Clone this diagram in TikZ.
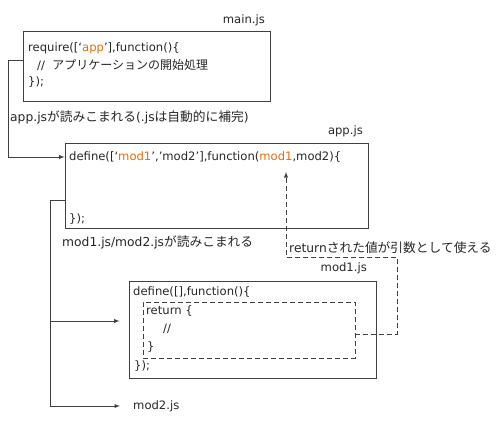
\documentclass[tikz,border=0pt]{standalone}
\usepackage{fontspec}
\setmainfont{DejaVu Sans}
\newfontfamily\jpfont[Scale=1.035]{Noto Sans CJK JP}
\usetikzlibrary{positioning}
\definecolor{argorange}{RGB}{228,108,10}
\definecolor{linegray}{RGB}{64,64,64}
\newcommand{\jp}[1]{{\jpfont #1}}
\newcommand{\hlarg}[1]{\textcolor{argorange}{#1}}
\begin{document}
\begin{tikzpicture}[x=1pt, y=-1pt, font=\fontsize{11.6}{14}\selectfont,
    box/.style = {draw=linegray, line width=0.9pt, inner sep=0pt},
    retbox/.style = {draw=linegray, dash pattern=on 5pt off 3pt, line width=0.9pt, inner sep=0pt},
    code/.style = {anchor=west, inner sep=0pt, text=black!85},
    note/.style = {code, font=\fontsize{12.3}{14}\selectfont},
    link/.style = {draw=linegray, line width=0.9pt, -latex},
    back/.style = {draw=linegray, dash pattern=on 5pt off 3pt, line width=0.9pt, -latex}]
  \useasboundingbox (0,0) rectangle (500,426);
  % main.js
  \node[box, minimum width=247, minimum height=70] (mainbox) at (146.5,66) {};
  \node[code, anchor=east] (mainname) at (265,20) {main.js};
  \node[code] (main1) at (28,48) {require([‘\hlarg{app}’],function()\{};
  \node[code] (main2) at (37,65) {//\ \ \jp{アプリケーションの開始処理}};
  \node[code] (main3) at (28,82) {\});};
  \node[note] (loadapp) at (10,117) {app.js\jp{が読みこまれる}(.js\jp{は自動的に補完})};
  % app.js
  \node[box, minimum width=303, minimum height=85] (appbox) at (216.5,185.5) {};
  \node[code, anchor=east] (appname) at (363,131) {app.js};
  \node[code] (app1) at (69,157) {define([‘\hlarg{mod1}’,’mod2’],function(\hlarg{mod1},mod2)\{};
  \node[code] (app2) at (69,219) {\});};
  \node[note] (loadmods) at (62,242) {mod1.js/mod2.js\jp{が読みこまれる}};
  % mod1.js
  \node[box, minimum width=247, minimum height=97] (mod1box) at (252.5,329.5) {};
  \node[retbox, minimum width=212, minimum height=56] (retbox) at (249,330) {};
  \node[code, anchor=east] (mod1name) at (367,268) {mod1.js};
  \node[code] (mod11) at (133,292) {define([],function()\{};
  \node[code] (mod12) at (146,311) {return \{};
  \node[code] (mod13) at (163,329) {//};
  \node[code] (mod14) at (147,347) {\}};
  \node[code] (mod15) at (134,366) {\});};
  \node[code] (mod2) at (133,406) {mod2.js};
  \node[note] (usable) at (289,248) {return\jp{された値が引数として使える}};
  \coordinate (trunk) at ([xshift=-14pt,yshift=-14.5pt]appbox.west);
  \coordinate (mod1in) at ([xshift=-9pt,yshift=8.5pt]mod1box.west);
  \coordinate (turn) at (286,257);
  \coordinate (argtip) at (286,172);
  \draw[link] ([yshift=6pt]mainbox.west) -- ++(-14,0) |- (appbox.west |- app1);
  \draw[link] ([yshift=-14.5pt]appbox.west) -- (trunk) |- ([xshift=-13pt]mod2.west);
  \draw[link] (trunk |- mod1in) -- (mod1in);
  \draw[back] ([yshift=-4pt]retbox.east) -- ++(42,0) |- (turn) -- (argtip);
\end{tikzpicture}
\end{document}
